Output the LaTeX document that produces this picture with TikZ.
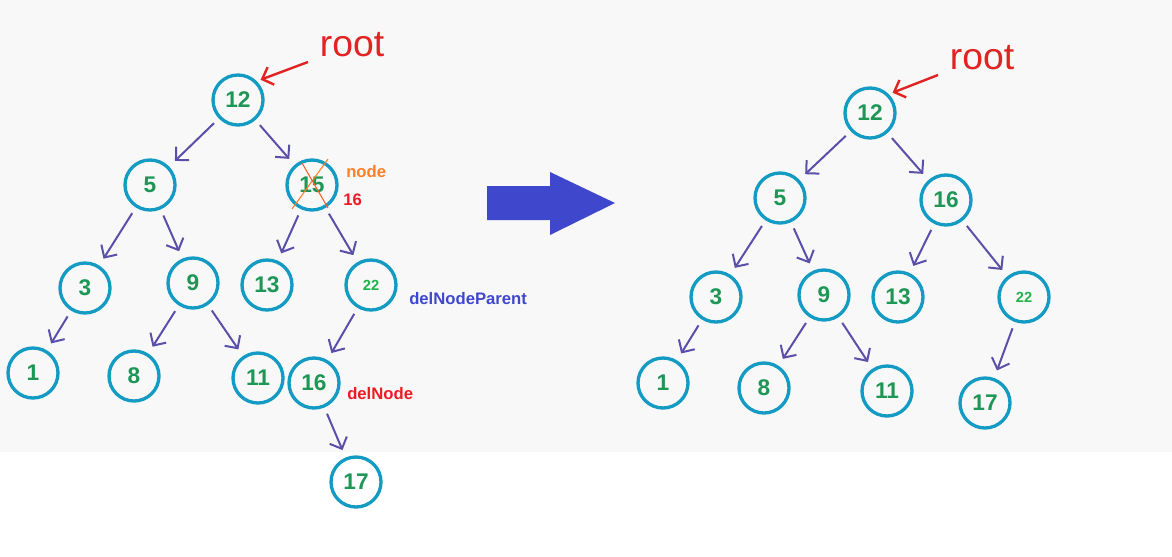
\documentclass[tikz,border=0pt]{standalone}
\usepackage{fontspec}
\setmainfont{Liberation Sans}
\usetikzlibrary{arrows.meta}
\definecolor{ring}{RGB}{20,155,195}
\definecolor{digit}{RGB}{30,150,85}
\definecolor{edgec}{RGB}{90,80,170}
\definecolor{rootred}{RGB}{225,35,35}
\definecolor{lblue}{RGB}{63,72,204}
\definecolor{lorange}{RGB}{255,127,39}
\definecolor{lred}{RGB}{237,28,36}
\definecolor{lgreen}{RGB}{34,177,76}
\definecolor{bg}{RGB}{248,248,248}
\tikzset{
  tnode/.style={circle,draw=ring,line width=2.5pt,minimum size=37.5pt,inner sep=0pt,
    text=digit,font=\fontsize{17}{17}\selectfont\bfseries},
  small/.style={tnode,font=\fontsize{11}{11}\selectfont\bfseries,text=lgreen},
  tedge/.style={draw=edgec,line width=1.5pt,-{Straight Barb[length=7pt,width=14pt,line width=1.5pt]},
    shorten >=6pt,shorten <=5pt},
  lbl/.style={font=\fontsize{12.5}{13}\selectfont\bfseries,anchor=west,inner sep=0pt},
  roottxt/.style={font=\fontsize{28}{28}\selectfont,text=rootred,inner sep=0pt},
  rootarrow/.style={draw=rootred,line width=1.8pt,-{Straight Barb[length=7pt,width=14pt,line width=1.8pt]},shorten >=3pt}
}
\begin{document}
\begin{tikzpicture}[x=0.75pt,y=-0.75pt]
\fill[white] (0,0) rectangle (1172,557);
\fill[bg] (0,0) rectangle (1172,452);
\useasboundingbox (0,0) rectangle (1172,557);
% ---------- left tree ----------
\node[tnode] (L12) at (238,100) {12};
\node[tnode] (L5) at (150,185) {5};
\node[tnode] (L15) at (312,185) {15};
\node[tnode] (L3) at (85,288) {3};
\node[tnode] (L9) at (193,283) {9};
\node[tnode] (L13) at (267,285) {13};
\node[small] (L22) at (371,285) {22};
\node[tnode] (L1) at (33,373) {1};
\node[tnode] (L8) at (134,376) {8};
\node[tnode] (L11) at (258,378) {11};
\node[tnode] (L16) at (314,383) {16};
\node[tnode] (L17) at (356,482) {17};
\draw[tedge] (L12) -- (L5);
\draw[tedge] (L12) -- (L15);
\draw[tedge] (L5) -- (L3);
\draw[tedge] (L5) -- (L9);
\draw[tedge] (L15) -- (L13);
\draw[tedge] (L15) -- (L22);
\draw[tedge] (L3) -- (L1);
\draw[tedge] (L9) -- (L8);
\draw[tedge] (L9) -- (L11);
\draw[tedge] (L22) -- (L16);
\draw[tedge] (L16) -- (L17);
% cross on 15
\coordinate (c1) at (292,209); \coordinate (c2) at (328,159);
\coordinate (c3) at (302,163); \coordinate (c4) at (328,208);
\draw[lorange,line width=0.8pt] (c1) -- (c2);
\draw[lorange!70!lred,line width=0.8pt] (c3) -- (c4);
% labels
\node[lbl,text=lorange] (lnode) at (346,172) {node};
\node[lbl,text=lred] (l16) at (343,200) {16};
\node[lbl,text=lblue] (lparent) at (409,299) {delNodeParent};
\node[lbl,text=lred] (ldel) at (347,394) {delNode};
% root
\node[roottxt] (rootL) at (352,45) {root};
\coordinate (raL) at (308,62);
\draw[rootarrow] (raL) -- (L12.north east);
% ---------- big arrow ----------
\fill[lblue] (487,186) -- (550,186) -- (550,172) -- (615,203) -- (550,235) -- (550,220) -- (487,220) -- cycle;
% ---------- right tree ----------
\node[tnode] (R12) at (870,113) {12};
\node[tnode] (R5) at (780,198) {5};
\node[tnode] (R16) at (946,200) {16};
\node[tnode] (R3) at (716,297) {3};
\node[tnode] (R9) at (824,295) {9};
\node[tnode] (R13) at (898,297) {13};
\node[small] (R22) at (1024,297) {22};
\node[tnode] (R1) at (663,383) {1};
\node[tnode] (R8) at (764,388) {8};
\node[tnode] (R11) at (887,391) {11};
\node[tnode] (R17) at (985,403) {17};
\draw[tedge] (R12) -- (R5);
\draw[tedge] (R12) -- (R16);
\draw[tedge] (R5) -- (R3);
\draw[tedge] (R5) -- (R9);
\draw[tedge] (R16) -- (R13);
\draw[tedge] (R16) -- (R22);
\draw[tedge] (R3) -- (R1);
\draw[tedge] (R9) -- (R8);
\draw[tedge] (R9) -- (R11);
\draw[tedge] (R22) -- (R17);
\node[roottxt] (rootR) at (982,58) {root};
\coordinate (raR) at (938,75);
\draw[rootarrow] (raR) -- (R12.north east);
\end{tikzpicture}
\end{document}
